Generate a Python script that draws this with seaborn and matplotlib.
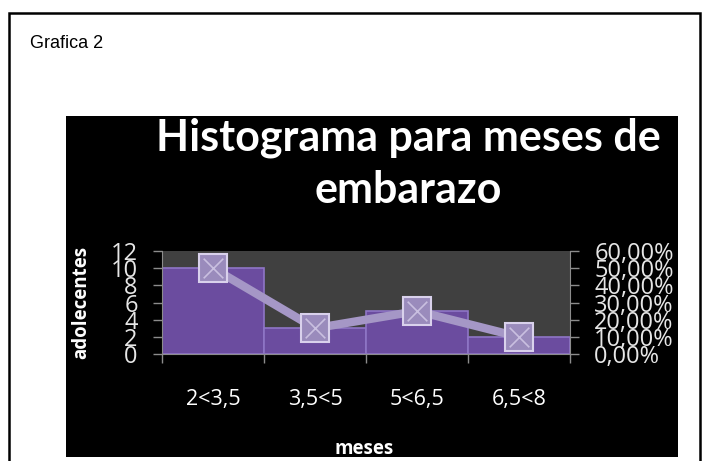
import numpy as np
import pandas as pd
import matplotlib.pyplot as plt
import seaborn as sns
from matplotlib.patches import Rectangle
from matplotlib.ticker import FixedLocator, FuncFormatter

# data
categorias = ["2<3,5", "3,5<5", "5<6,5", "6,5<8"]
adolecentes = [10, 3, 5, 2]
porcentaje = [0.50, 0.15, 0.25, 0.10]

W, H = 702, 461


def main():
    fig = plt.figure(figsize=(W / 100, H / 100), dpi=100)
    fig.patch.set_facecolor("white")

    # outer frame of the page and black chart panel (behind the axes)
    fig.patches.append(Rectangle((9 / W, -0.1), (700 - 9) / W, 1.1 - 13 / H,
                                 transform=fig.transFigure, fill=False,
                                 edgecolor="black", linewidth=1.8, zorder=-2))
    fig.patches.append(Rectangle((66 / W, 1 - 457 / H), (678 - 66) / W, (457 - 116) / H,
                                 transform=fig.transFigure, facecolor="black",
                                 edgecolor="none", zorder=-1))

    fig.text(30 / W, 1 - 43 / H, "Grafica 2", fontsize=13, family="Liberation Sans",
             color="black", va="center", ha="left")

    ax = fig.add_axes([162 / W, 1 - 354 / H, 408 / W, 103 / H])
    ax.set_facecolor("#404040")

    df = pd.DataFrame({"meses": categorias, "adolecentes": adolecentes,
                       "porcentaje": porcentaje})

    sns.barplot(data=df, x="meses", y="adolecentes", ax=ax, width=1.0,
                color="#6B4C9F", saturation=1, edgecolor="#8F76C6", linewidth=1.2)
    ax.set_xlim(-0.5, 3.5)
    ax.set_ylim(0, 12)
    ax.set_yticks(np.arange(0, 13, 2))

    ax2 = ax.twinx()
    sns.lineplot(x=np.arange(len(categorias)), y=df["porcentaje"], ax=ax2,
                 color="#A597C6", linewidth=6, marker="s", markersize=20,
                 markerfacecolor="#9A8BBC", markeredgecolor="#D9D1EC",
                 markeredgewidth=1.5)
    sns.scatterplot(x=np.arange(len(categorias)), y=df["porcentaje"], ax=ax2,
                    marker="x", s=200, color="#C9BFE0", linewidth=1.2, zorder=5)
    ax2.set_ylim(0, 0.6)
    ax2.set_yticks(np.arange(0, 0.61, 0.1))
    ax2.yaxis.set_major_formatter(
        FuncFormatter(lambda v, p: f"{v * 100:.2f}%".replace(".", ",")))
    ax2.set_xlim(-0.5, 3.5)

    # x ticks at category borders, labels at centers
    ax.set_xticks(range(len(categorias)))
    ax.set_xticklabels(categorias)
    ax.xaxis.set_minor_locator(FixedLocator(np.arange(-0.5, 4, 1)))
    ax.tick_params(axis="x", which="major", length=0, pad=25, labelsize=15.5,
                   labelcolor="white")
    ax.tick_params(axis="x", which="minor", length=6.5, color="#8C8C8C", width=1)
    ax.tick_params(axis="y", length=6.5, color="#8C8C8C", width=1, pad=11,
                   labelsize=17, labelcolor="#E6E6E6")
    ax2.tick_params(axis="y", length=6.5, color="#8C8C8C", width=1, pad=11,
                    labelsize=17, labelcolor="#E6E6E6")
    for lab in ax.get_xticklabels() + ax.get_yticklabels() + ax2.get_yticklabels():
        lab.set_family("Open Sans")

    for a in (ax, ax2):
        a.spines["top"].set_visible(False)
        a.spines["left"].set_color("#8C8C8C")
        a.spines["bottom"].set_color("#8C8C8C")
        a.spines["right"].set_color("#8C8C8C")
    ax.spines["right"].set_visible(False)
    ax2.spines["left"].set_visible(False)
    ax2.spines["bottom"].set_visible(False)
    ax.set_xlabel("")
    ax.set_ylabel("")
    ax2.set_ylabel("")

    fig.text(408 / W, 1 - 138 / H, "Histograma para meses de",
             fontsize=31, family="Lato", weight="bold", color="white",
             ha="center", va="center")
    fig.text(408 / W, 1 - 190 / H, "embarazo",
             fontsize=31, family="Lato", weight="bold", color="white",
             ha="center", va="center")
    fig.text(364 / W, 1 - 449 / H, "meses", fontsize=13.5, family="Open Sans",
             weight="bold", color="white", ha="center", va="center")
    fig.text(81 / W, 1 - 302 / H, "adolecentes", fontsize=13.5, family="Open Sans",
             weight="bold", color="white", ha="center", va="center", rotation=90)

    fig.savefig("out.png", dpi=100, facecolor=fig.get_facecolor())


if __name__ == "__main__":
    main()
